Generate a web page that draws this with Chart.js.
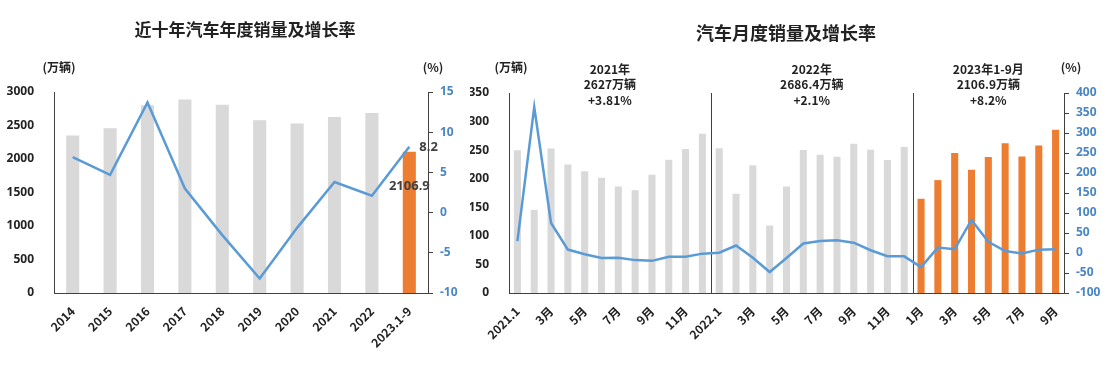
<!DOCTYPE html>
<html>
<head>
<meta charset="utf-8">
<script src="https://cdn.jsdelivr.net/npm/chart.js@4.4.0/dist/chart.umd.min.js"></script>
<style>
  body { margin: 0; background: #fff; width: 1117px; height: 374px; position: relative; overflow: hidden; }
  #yearChart { position: absolute; left: 0; top: 0; }
  #monthChart { position: absolute; left: 470px; top: 0; }
</style>
</head>
<body>
<canvas id="yearChart" width="470" height="374"></canvas>
<canvas id="monthChart" width="647" height="374"></canvas>
<script>
// Annual sales (万辆) and growth (%)
const yearLabels = ['2014', '2015', '2016', '2017', '2018', '2019', '2020', '2021', '2022', '2023.1-9'];
const yearSales = [2349, 2460, 2803, 2888, 2808, 2577, 2531, 2627, 2686, 2106.9];
const yearGrowth = [6.9, 4.7, 13.7, 3.0, -2.8, -8.2, -1.9, 3.8, 2.1, 8.2];

// Monthly sales (万辆) and growth (%), 2021.1 - 2023.9
const monthLabels = [
    '2021.1', '2月', '3月', '4月', '5月', '6月', '7月', '8月', '9月', '10月', '11月', '12月',
    '2022.1', '2月', '3月', '4月', '5月', '6月', '7月', '8月', '9月', '10月', '11月', '12月',
    '1月', '2月', '3月', '4月', '5月', '6月', '7月', '8月', '9月'
];
const monthSales = [
    250, 145.5, 253, 225, 213, 201.5, 186.4, 180, 207, 233, 252, 278.6,
    253.1, 173.7, 223.4, 118.1, 186.2, 250.2, 242, 238.3, 261, 250.6, 232.6, 255.6,
    164.9, 197.6, 245.1, 215.9, 238.2, 262.2, 238.7, 258.2, 285.8
];
const monthGrowth = [
    29.5, 365, 74.9, 8.6, -3.1, -12.4, -11.9, -17.8, -19.6, -9.4, -9.1, -1.6,
    0.9, 18.7, -11.7, -47.6, -12.6, 23.8, 29.7, 32.1, 25.7, 6.9, -7.9, -8.4,
    -35, 13.5, 9.7, 82.7, 27.9, 4.8, -1.3, 8.4, 9.5
];

// Year summary notes for the monthly chart
const periodNotes = [
    ['2021年', '2627万辆', '+3.81%'],
    ['2022年', '2686.4万辆', '+2.1%'],
    ['2023年1-9月', '2106.9万辆', '+8.2%']
];

const GRAY = '#d9d9d9';
const ORANGE = '#ed7d31';
const BLUE = '#5b9bd5';
const TICK_BLUE = '#4a86c4';
const AXIS = '#404040';
const FONT = "'Noto Sans', 'Noto Sans CJK SC', sans-serif";
const CJK = "'Noto Sans CJK SC', 'Noto Sans', sans-serif";

// draws free text items given in plugin options
const textPlugin = {
    id: 'texts',
    afterDraw(chart, args, opts) {
        const ctx = chart.ctx;
        ctx.save();
        (opts.items || []).forEach(t => {
            const pos = typeof t.pos === 'function' ? t.pos(chart) : t.pos;
            ctx.font = t.font;
            ctx.fillStyle = t.color || '#222';
            ctx.textAlign = t.align || 'center';
            ctx.textBaseline = 'middle';
            ctx.fillText(t.text, pos[0], pos[1]);
        });
        ctx.restore();
    }
};

// vertical lines separating the years
const separatorPlugin = {
    id: 'separators',
    beforeDatasetsDraw(chart, args, opts) {
        const { ctx, chartArea, scales } = chart;
        ctx.save();
        ctx.strokeStyle = AXIS;
        ctx.lineWidth = 1;
        (opts.after || []).forEach(i => {
            const x = Math.round((scales.x.getPixelForValue(i) + scales.x.getPixelForValue(i + 1)) / 2) + 0.5;
            ctx.beginPath();
            ctx.moveTo(x, chartArea.top);
            ctx.lineTo(x, chartArea.bottom);
            ctx.stroke();
        });
        ctx.restore();
    }
};

function leftAxis(min, max, step, width) {
    return {
        position: 'left', min: min, max: max,
        afterFit: s => { s.width = width; },
        grid: { display: false },
        border: { display: true, color: AXIS, width: 1 },
        ticks: {
            stepSize: step, padding: 12, color: '#222', font: { family: FONT, size: 12, weight: 'bold' },
            callback: v => String(v)
        }
    };
}

function rightAxis(min, max, step, width) {
    return {
        position: 'right', min: min, max: max,
        afterFit: s => { s.width = width; },
        grid: { display: true, drawOnChartArea: false, drawTicks: true, tickLength: 5, color: AXIS },
        border: { display: true, color: AXIS, width: 1 },
        ticks: {
            stepSize: step, padding: 7, color: TICK_BLUE, font: { family: FONT, size: 12, weight: 'bold' },
            callback: v => String(v)
        }
    };
}

function xAxis(everyOther) {
    const ticks = {
        autoSkip: false, minRotation: 45, maxRotation: 45, padding: 3,
        color: '#222', font: { family: CJK, size: 12, weight: 'bold' }
    };
    if (everyOther) {
        ticks.callback = function (v, i) { return i % 2 === 0 ? this.getLabelForValue(v) : ''; };
    }
    return {
        afterFit: s => { s.height = 81; },
        grid: { display: false },
        border: { display: true, color: AXIS, width: 1 },
        ticks: ticks
    };
}

// Chart 1: annual
new Chart(document.getElementById('yearChart'), {
    type: 'bar',
    plugins: [textPlugin],
    data: {
        labels: yearLabels,
        datasets: [
            {
                type: 'line', data: yearGrowth, yAxisID: 'y1', order: 0,
                borderColor: BLUE, borderWidth: 2.5, pointRadius: 0, tension: 0
            },
            {
                data: yearSales, yAxisID: 'y', order: 1,
                backgroundColor: yearSales.map((v, i) => i === yearSales.length - 1 ? ORANGE : GRAY),
                barPercentage: 0.35, categoryPercentage: 1
            }
        ]
    },
    options: {
        responsive: false,
        animation: false,
        layout: { padding: { top: 92, left: 0, right: 0, bottom: 0 } },
        scales: {
            x: xAxis(false),
            y: leftAxis(0, 3000, 500, 54),
            y1: rightAxis(-10, 15, 5, 42)
        },
        plugins: {
            legend: { display: false },
            tooltip: { enabled: false },
            texts: {
                items: [
                    { text: '近十年汽车年度销量及增长率', font: `bold 17px ${CJK}`, pos: [245, 30] },
                    { text: '(万辆)', font: `bold 12px ${CJK}`, pos: [59, 67] },
                    { text: '(%)', font: `bold 12px ${CJK}`, pos: [433, 67] },
                    {
                        text: yearGrowth[yearGrowth.length - 1].toFixed(1), font: `bold 13px ${FONT}`, color: '#404040', align: 'left',
                        pos: c => [c.scales.x.getPixelForValue(yearGrowth.length - 1) + 10, c.scales.y1.getPixelForValue(yearGrowth[yearGrowth.length - 1]) + 1]
                    },
                    {
                        text: String(yearSales[yearSales.length - 1]), font: `bold 13px ${FONT}`, color: '#404040',
                        pos: c => [c.scales.x.getPixelForValue(yearSales.length - 1), c.scales.y.getPixelForValue(yearSales[yearSales.length - 1]) + 34]
                    }
                ]
            }
        }
    }
});

// Chart 2: monthly
const periodCenters = [5.5, 17.5, 28];
new Chart(document.getElementById('monthChart'), {
    type: 'bar',
    plugins: [textPlugin, separatorPlugin],
    data: {
        labels: monthLabels,
        datasets: [
            {
                type: 'line', data: monthGrowth, yAxisID: 'y1', order: 0,
                borderColor: BLUE, borderWidth: 2.5, pointRadius: 0, tension: 0
            },
            {
                data: monthSales, yAxisID: 'y', order: 1,
                backgroundColor: monthSales.map((v, i) => i >= 24 ? ORANGE : GRAY),
                barPercentage: 0.42, categoryPercentage: 1
            }
        ]
    },
    options: {
        responsive: false,
        animation: false,
        layout: { padding: { top: 93, left: 0, right: 0, bottom: 0 } },
        scales: {
            x: xAxis(true),
            y: leftAxis(0, 350, 50, 39),
            y1: rightAxis(-100, 400, 50, 53)
        },
        plugins: {
            legend: { display: false },
            tooltip: { enabled: false },
            separators: { after: [11, 23] },
            texts: {
                items: [
                    { text: '汽车月度销量及增长率', font: `bold 18px ${CJK}`, pos: [316, 33] },
                    { text: '(万辆)', font: `bold 12px ${CJK}`, pos: [41, 67] },
                    { text: '(%)', font: `bold 12px ${CJK}`, pos: [601, 67] }
                ].concat(...periodNotes.map((lines, k) => lines.map((t, j) => ({
                    text: t, font: `bold 12px ${CJK}`, color: '#222',
                    pos: c => {
                        const x0 = c.scales.x.getPixelForValue(Math.floor(periodCenters[k]));
                        const x1 = c.scales.x.getPixelForValue(Math.ceil(periodCenters[k]));
                        return [(x0 + x1) / 2, 69 + j * 15.5];
                    }
                }))))
            }
        }
    }
});
</script>
</body>
</html>
